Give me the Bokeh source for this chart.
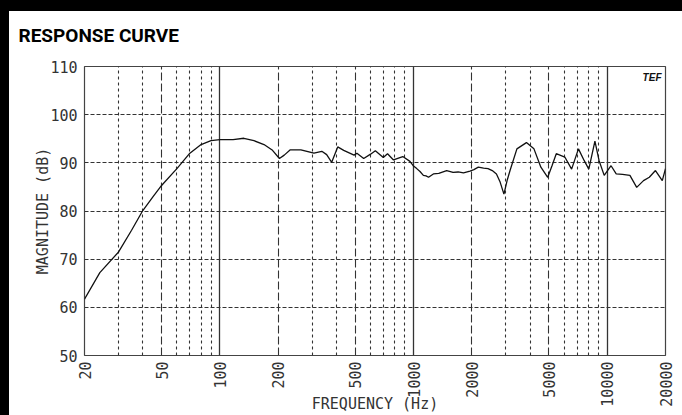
from math import pi
from bokeh.plotting import figure
from bokeh.models import FixedTicker, Grid, Label, Range1d
from bokeh.embed import file_html
from bokeh.resources import INLINE

# ---- data ----
freq_hz = [20, 24, 30, 35, 40, 45, 50, 60, 70, 80, 90, 100, 117, 133, 150, 169, 187,
           203, 215, 231, 262, 306, 336, 356, 378, 406, 436, 493, 510, 553, 600, 635,
           698, 734, 788, 880, 958, 996, 1039, 1080, 1124, 1160, 1195, 1266, 1350,
           1483, 1600, 1700, 1811, 1957, 2050, 2160, 2300, 2424, 2550, 2680, 2800,
           2929, 3050, 3150, 3418, 3827, 4186, 4545, 4930, 5200, 5458, 6040, 6550,
           7105, 7600, 8035, 8642, 9075, 9650, 10470, 11130, 12000, 13100, 14200,
           15400, 16500, 17750, 19250, 20000]
magnitude_db = [61.7, 67.2, 71.5, 76.0, 80.1, 82.9, 85.3, 88.8, 92.0, 93.8, 94.6, 94.8,
                94.8, 95.1, 94.6, 93.8, 92.6, 90.9, 91.6, 92.7, 92.7, 92.0, 92.4, 91.7,
                90.1, 93.3, 92.6, 91.6, 92.0, 90.9, 91.8, 92.5, 91.1, 91.9, 90.6, 91.3,
                90.3, 89.4, 88.8, 88.2, 87.4, 87.3, 87.0, 87.7, 87.8, 88.4, 88.0, 88.1,
                87.9, 88.3, 88.6, 89.1, 88.9, 88.8, 88.4, 87.7, 86.0, 83.5, 86.5, 88.4,
                92.9, 94.2, 92.9, 89.1, 87.0, 89.5, 91.9, 91.2, 88.7, 92.9, 90.5, 88.7,
                94.5, 90.5, 87.4, 89.4, 87.7, 87.6, 87.4, 84.9, 86.3, 87.0, 88.4, 86.3,
                88.8]

x_ticks = [20, 50, 100, 200, 500, 1000, 2000, 5000, 10000, 20000]
x_tick_labels = ["20", "50", "100", "200", "500", "1000", "2000", "5000", "10000", "20000"]
y_ticks = [50, 60, 70, 80, 90, 100, 110]
y_grid_values = [60, 70, 80, 90, 100]
decade_lines = [100, 1000, 10000]
half_decade_lines = [50, 200, 500, 2000, 5000]
minor_lines = [30, 40, 60, 70, 80, 90, 300, 400, 600, 700, 800, 900,
               3000, 4000, 6000, 7000, 8000, 9000]

title_text = "RESPONSE CURVE"
x_label = "FREQUENCY (Hz)"
y_label = "MAGNITUDE (dB)"

MONO = "DejaVu Sans Mono"
INK = "#333333"

p = figure(x_axis_type="log", x_range=Range1d(20, 20000), y_range=Range1d(50, 110),
           frame_width=581, frame_height=289,
           min_border_left=84, min_border_right=17, min_border_top=66, min_border_bottom=60,
           output_backend="svg", toolbar_location=None)
p.background_fill_color = "white"
p.border_fill_color = None
p.outline_line_color = "#444444"
p.outline_line_width = 1.2
# thick black edges of the scanned sheet (left and top)
p.styles = {"background": "linear-gradient(90deg, #000000 9px, rgba(0,0,0,0) 9px), "
                          "linear-gradient(180deg, #000000 11px, #ffffff 11px)"}

# title
p.title.text = title_text
p.title.align = "left"
p.title.offset = -66
p.title.text_font = "Roboto"
p.title.text_font_size = "19px"
p.title.text_font_style = "bold"
p.title.text_color = "#000000"
p.title.standoff = 40

# grids
p.xgrid.visible = False
p.ygrid.ticker = FixedTicker(ticks=y_grid_values)
p.ygrid.grid_line_color = INK
p.ygrid.grid_line_dash = "4 2"
p.ygrid.grid_line_width = 1

for ticks, dash, w in [(decade_lines, "solid", 1.3),
                       (half_decade_lines, "8 3", 1.1),
                       (minor_lines, "3 3", 1.1)]:
    g = Grid(dimension=0, ticker=FixedTicker(ticks=ticks),
             grid_line_color=INK, grid_line_dash=dash, grid_line_width=w)
    p.add_layout(g)

# curve
p.line(freq_hz, magnitude_db, line_color="#111111", line_width=1.3)

# axes
for ax in (p.xaxis[0], p.yaxis[0]):
    ax.axis_line_color = None
    ax.major_tick_line_color = None
    ax.minor_tick_line_color = None
    ax.major_label_text_font = MONO
    ax.major_label_text_font_size = "15px"
    ax.major_label_text_color = INK
    ax.axis_label_text_font = MONO
    ax.axis_label_text_font_size = "15px"
    ax.axis_label_text_font_style = "normal"
    ax.axis_label_text_color = INK

p.xaxis.ticker = FixedTicker(ticks=x_ticks)
p.xaxis.major_label_overrides = dict(zip(x_ticks, x_tick_labels))
p.xaxis.major_label_orientation = pi / 2
p.xaxis.major_label_standoff = 0
p.xaxis.axis_label = x_label
p.xaxis.axis_label_standoff = -15

p.yaxis.ticker = FixedTicker(ticks=y_ticks)
p.yaxis.major_label_standoff = 1
p.yaxis.axis_label = y_label
p.yaxis.axis_label_standoff = -5

# logo
p.add_layout(Label(x=577, y=278, x_units="screen", y_units="screen", text="TEF",
                   text_font="Liberation Sans", text_font_size="10px",
                   text_font_style="bold italic", text_color="#111111",
                   text_align="right", text_baseline="alphabetic"))

open("out.html", "w").write(file_html(p, INLINE))
